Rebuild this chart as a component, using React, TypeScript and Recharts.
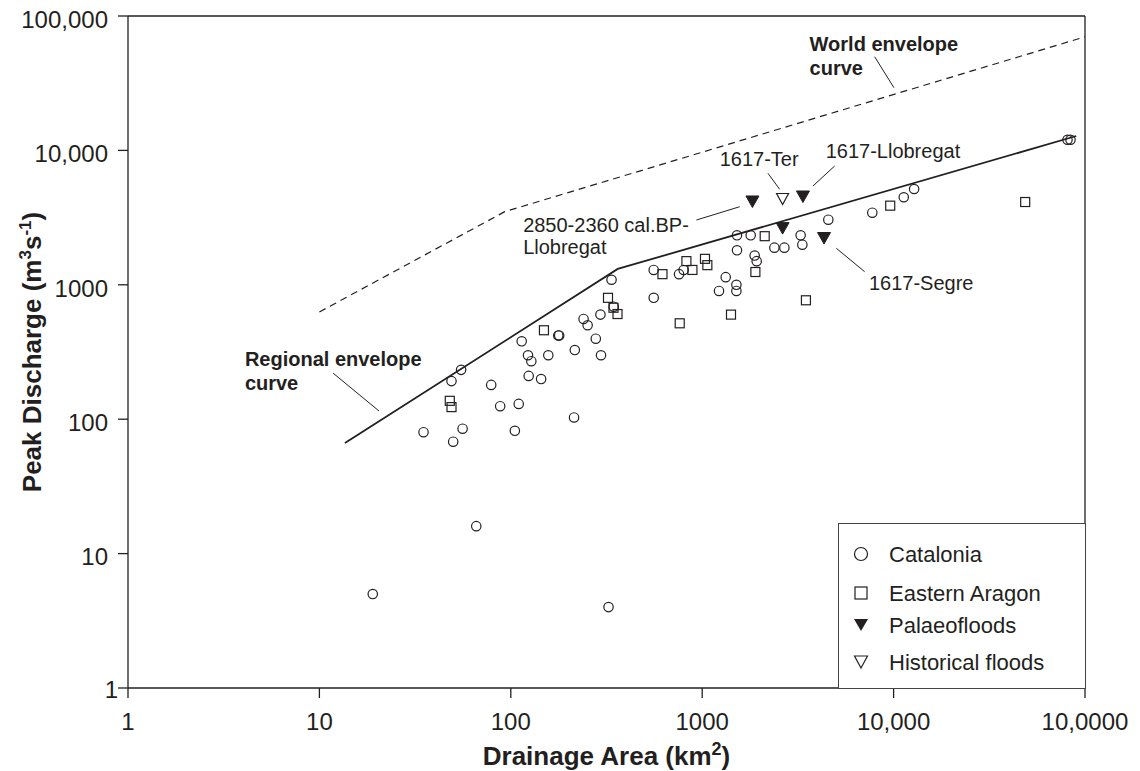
import React from "react";
import {
  ScatterChart,
  Scatter,
  XAxis,
  YAxis,
  ReferenceLine,
  ReferenceDot,
} from "recharts";

const INK = "#231f20";
const FONT = '"Liberation Sans", Arial, Helvetica, sans-serif';

// axis ticks
const xTicks = [1, 10, 100, 1000, 10000, 100000];
const xTickLabels = ["1", "10", "100", "1000", "10,000", "10,0000"];
const yTicks = [1, 10, 100, 1000, 10000, 100000];
const yTickLabels = ["1", "10", "100", "1000", "10,000", "100,000"];

// [drainage area km2, peak discharge m3/s]
const catalonia = [
  [35, 80], [50, 68], [56, 85], [49, 192], [55, 233], [79, 180], [88, 125],
  [110, 130], [105, 82], [114, 380], [123, 299], [128, 270], [124, 210],
  [144, 199], [157, 299], [177, 420], [179, 420], [214, 103], [216, 327],
  [240, 557], [252, 500], [278, 397], [296, 299], [294, 600], [345, 687],
  [336, 1090], [66, 16], [19, 5], [324, 4], [558, 1290], [558, 800],
  [757, 1200], [800, 1290], [1327, 1140], [1224, 900], [1509, 1000],
  [1509, 900], [1520, 2335], [1792, 2335], [1520, 1806], [1880, 1650],
  [1926, 1500], [2383, 1890], [2687, 1890], [3268, 2335], [3336, 1990],
  [4560, 3050], [7740, 3440], [11300, 4480], [12800, 5160], [81000, 12000],
  [84000, 12000],
];
const easternAragon = [
  [48, 137], [49, 123], [149, 459], [322, 800], [344, 675], [361, 606],
  [620, 1200], [763, 517], [827, 1500], [889, 1290], [1034, 1560],
  [1064, 1400], [1414, 600], [2121, 2300], [1896, 1245], [3483, 767],
  [9600, 3880], [48700, 4130],
];
const palaeofloods = [[1830, 4150], [3360, 4520], [2630, 2630], [4330, 2220]];
const historicalFloods = [[2630, 4350]];

const regionalEnvelope = [[13.6, 66.5], [362, 1312], [90000, 12800]];
const worldEnvelope = [[10, 628], [93, 3500], [100000, 70000]];

// annotation text, anchored at left/baseline of first line
const annotations = [
  { lines: ["World envelope", "curve"], x: 3640, y: 55000, bold: true },
  { lines: ["Regional envelope", "curve"], x: 4.08, y: 249, bold: true },
  { lines: ["2850-2360 cal.BP-", "Llobregat"], x: 116, y: 2485, bold: false },
  { lines: ["1617-Ter"], x: 1234, y: 7655, bold: false },
  { lines: ["1617-Llobregat"], x: 4416, y: 8733, bold: false },
  { lines: ["1617-Segre"], x: 7430, y: 915, bold: false },
];
const leaders = [
  [[7960, 49800], [10040, 29280]],
  [[11.8, 220], [20.5, 115]],
  [[933, 3034], [1570, 3811]],
  [[2206, 6754], [2540, 5135]],
  [[4920, 7655], [3790, 5433]],
  [[5022, 1869], [7058, 1252]],
];

const legendNames = ["Catalonia", "Eastern Aragon", "Palaeofloods", "Historical floods"];

const pts = (arr: number[][]) => arr.map(([x, y]) => ({ x, y }));

function CircleMark(p: any) {
  return <circle cx={p.cx} cy={p.cy} r={4.7} fill="none" stroke={INK} strokeWidth={1.2} />;
}
function SquareMark(p: any) {
  return <rect x={p.cx - 4.5} y={p.cy - 4.5} width={9} height={9} fill="none" stroke={INK} strokeWidth={1.2} />;
}
function triPath(cx: number, cy: number, w: number, h: number) {
  return `M${cx - w / 2},${cy - h / 2}L${cx + w / 2},${cy - h / 2}L${cx},${cy + h / 2}Z`;
}
function FilledTri(p: any) {
  return <path d={triPath(p.cx, p.cy, 13, 11.5)} fill={INK} stroke={INK} strokeWidth={1} />;
}
function HollowTri(p: any) {
  return <path d={triPath(p.cx, p.cy, 12, 11)} fill="none" stroke={INK} strokeWidth={1.2} />;
}
const NoMark = () => <g />;

function XTick(props: any) {
  const { x, y, payload } = props;
  const label = xTickLabels[xTicks.indexOf(payload.value)];
  return (
    <text x={x} y={y} dy={32} textAnchor="middle" fontSize={24} fill={INK} fontFamily={FONT}>
      {label}
    </text>
  );
}

function YTick(props: any) {
  const { x, y, payload } = props;
  const label = yTickLabels[yTicks.indexOf(payload.value)];
  const isOne = payload.value === 1;
  return (
    <text x={isOne ? x + 10 : x} y={y} dy={isOne ? 10 : 11.7} textAnchor="end" fontSize={24} fill={INK} fontFamily={FONT}>
      {label}
    </text>
  );
}

function YTitle(props: any) {
  const vb = props.viewBox || { x: 18, y: 16, width: 110, height: 672 };
  const cy = vb.y + vb.height / 2;
  const bx = vb.x + 23;
  return (
    <text transform={`translate(${bx},${cy}) rotate(-90)`} textAnchor="middle" fontSize={26} fontWeight="bold" fill={INK} fontFamily={FONT}>
      <tspan>Peak Discharge (m</tspan>
      <tspan dy={-10} fontSize={17}>3</tspan>
      <tspan dy={10}>s</tspan>
      <tspan dy={-10} fontSize={17}>-1</tspan>
      <tspan dy={10}>)</tspan>
    </text>
  );
}

function XTitle(props: any) {
  const vb = props.viewBox || { x: 128, y: 688, width: 957, height: 80 };
  const cx = vb.x + vb.width / 2;
  return (
    <text x={cx} y={vb.y + 77} textAnchor="middle" fontSize={26} fontWeight="bold" fill={INK} fontFamily={FONT}>
      <tspan>Drainage Area (km</tspan>
      <tspan dy={-10} fontSize={18}>2</tspan>
      <tspan dy={10}>)</tspan>
    </text>
  );
}

function AnnoText(props: any) {
  const { viewBox, lines, bold } = props;
  if (!viewBox) return null;
  const x = viewBox.x;
  const y = viewBox.y;
  const lh = bold ? 24 : 22;
  return (
    <text x={x} y={y} fontSize={20} fontWeight={bold ? "bold" : "normal"} fill={INK} fontFamily={FONT}>
      {lines.map((l: string, i: number) => (
        <tspan key={i} x={x} dy={i === 0 ? 0 : lh}>
          {l}
        </tspan>
      ))}
    </text>
  );
}

function LegendBox() {
  const rows = [31, 70, 102, 139];
  const marks = [
    <circle cx={23} cy={rows[0]} r={6.5} fill="none" stroke={INK} strokeWidth={1.2} />,
    <rect x={17} y={rows[1] - 6} width={12} height={12} fill="none" stroke={INK} strokeWidth={1.2} />,
    <path d={triPath(23, rows[2], 14, 12)} fill={INK} />,
    <path d={triPath(23, rows[3], 13, 12)} fill="none" stroke={INK} strokeWidth={1.2} />,
  ];
  return (
    <div
      style={{
        position: "absolute",
        left: 838,
        top: 523,
        width: 248,
        height: 166,
        boxSizing: "border-box",
        border: "1px solid #444",
        background: "#fff",
      }}
    >
      <svg width={248} height={166} style={{ position: "absolute", left: -1, top: -1 }}>
        {legendNames.map((name, i) => (
          <g key={name}>
            {marks[i]}
            <text x={51} y={rows[i] + 8} fontSize={22} fill={INK} fontFamily={FONT}>
              {name}
            </text>
          </g>
        ))}
      </svg>
    </div>
  );
}

export default function App() {
  return (
    <div style={{ position: "relative", width: 1140, height: 771, margin: "-8px 0 0 -8px", background: "#fff" }}>
      <ScatterChart width={1140} height={771} margin={{ top: 16, right: 55, bottom: 3, left: 18 }}>
        <XAxis
          type="number"
          dataKey="x"
          scale="log"
          domain={[1, 100000]}
          ticks={xTicks}
          interval={0}
          allowDataOverflow
          height={80}
          tickSize={10}
          tickMargin={0}
          axisLine={{ stroke: INK, strokeWidth: 1.3 }}
          tickLine={{ stroke: INK, strokeWidth: 1.3 }}
          tick={<XTick />}
          label={<XTitle />}
        />
        <YAxis
          type="number"
          dataKey="y"
          scale="log"
          domain={[1, 100000]}
          ticks={yTicks}
          interval={0}
          allowDataOverflow
          width={110}
          tickSize={10}
          tickMargin={10}
          axisLine={{ stroke: INK, strokeWidth: 1.3 }}
          tickLine={{ stroke: INK, strokeWidth: 1.3 }}
          tick={<YTick />}
          label={<YTitle />}
        />
        <ReferenceLine y={100000} stroke={INK} strokeWidth={1.3} ifOverflow="visible" />
        <ReferenceLine x={100000} stroke={INK} strokeWidth={1.3} ifOverflow="visible" />

        <Scatter
          name="World envelope"
          data={pts(worldEnvelope)}
          line={{ stroke: INK, strokeWidth: 1.2, strokeDasharray: "7 5" }}
          shape={NoMark}
          legendType="none"
          isAnimationActive={false}
        />
        <Scatter
          name="Regional envelope"
          data={pts(regionalEnvelope)}
          line={{ stroke: INK, strokeWidth: 1.8 }}
          shape={NoMark}
          legendType="none"
          isAnimationActive={false}
        />

        {leaders.map((s, i) => (
          <ReferenceLine
            key={"ld" + i}
            segment={[{ x: s[0][0], y: s[0][1] }, { x: s[1][0], y: s[1][1] }]}
            stroke={INK}
            strokeWidth={1}
            ifOverflow="visible"
          />
        ))}

        <Scatter name="Catalonia" data={pts(catalonia)} shape={CircleMark} isAnimationActive={false} />
        <Scatter name="Eastern Aragon" data={pts(easternAragon)} shape={SquareMark} isAnimationActive={false} />
        <Scatter name="Palaeofloods" data={pts(palaeofloods)} shape={FilledTri} isAnimationActive={false} />
        <Scatter name="Historical floods" data={pts(historicalFloods)} shape={HollowTri} isAnimationActive={false} />

        {annotations.map((a, i) => (
          <ReferenceDot
            key={"an" + i}
            x={a.x}
            y={a.y}
            r={0}
            fill="none"
            stroke="none"
            ifOverflow="visible"
            label={<AnnoText lines={a.lines} bold={a.bold} />}
          />
        ))}
      </ScatterChart>
      <LegendBox />
    </div>
  );
}
